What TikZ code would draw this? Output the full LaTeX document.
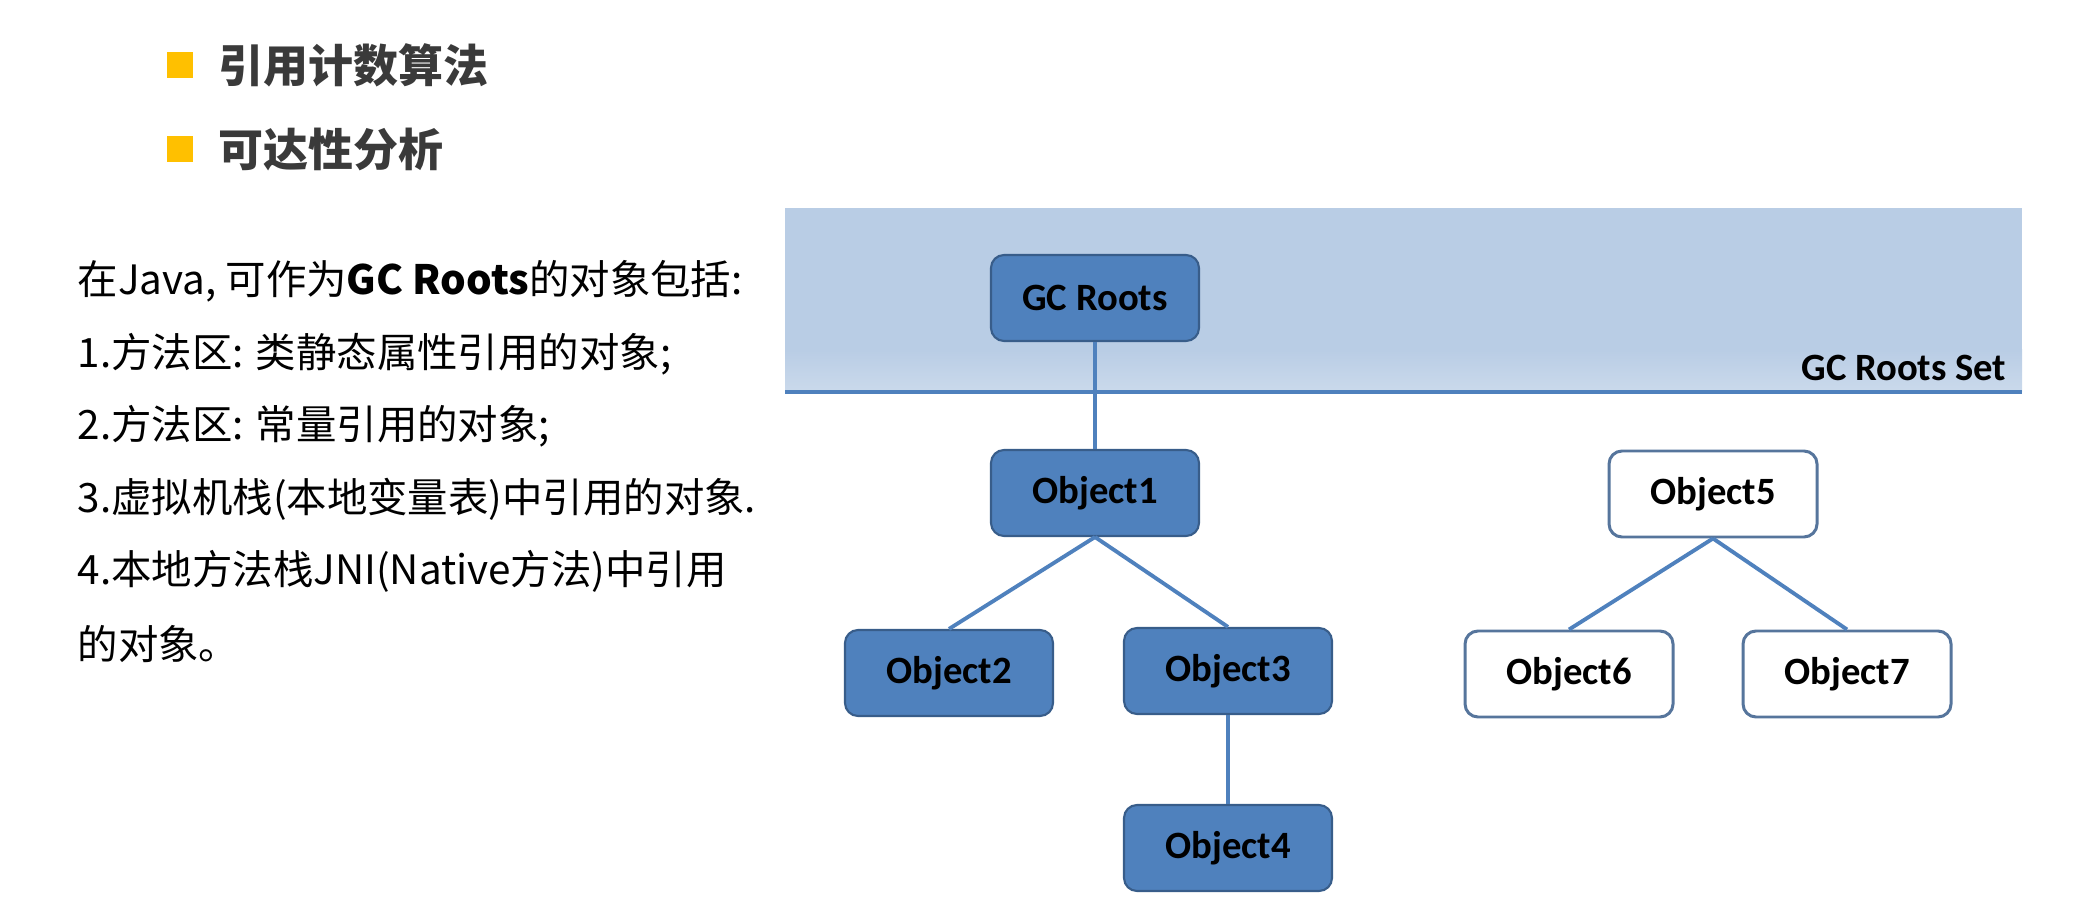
\documentclass[tikz,border=0pt]{standalone}
\usepackage{fontspec}
\newfontfamily\cjkfont{Noto Sans CJK SC}
\newfontfamily\calfont{Carlito}
\usetikzlibrary{positioning}

\definecolor{bandblue}{HTML}{B9CDE5}
\definecolor{lineblue}{HTML}{4F81BD}
\definecolor{edgeblue}{HTML}{385D8A}
\definecolor{bulletgold}{HTML}{FFC000}
\definecolor{headgray}{HTML}{3A3A3A}

\tikzset{
	objbox/.style={draw=edgeblue, line width=0.6pt, fill=lineblue, rounded corners=0.13cm,
		minimum width=2.08cm, minimum height=0.86cm, text=black,
		font=\calfont\bfseries\fontsize{11}{13}\selectfont},
	freebox/.style={objbox, fill=white, draw=edgeblue!85!white, line width=0.85pt},
	link/.style={draw=lineblue, line width=1.1pt},
	bulletbox/.style={fill=bulletgold, minimum size=0.26cm, inner sep=0pt},
	headtext/.style={font=\cjkfont\bfseries\fontsize{12.8}{15}\selectfont, text=headgray, inner sep=0pt},
	bodytext/.style={font=\cjkfont\fontsize{11.5}{14}\selectfont, inner sep=0pt, anchor=west},
}

\begin{document}
\begin{tikzpicture}
	\useasboundingbox (0,0) rectangle (20.88,-9.16);

	% headings
	\node[bulletbox] (b1) at (1.80,-0.655) {};
	\node[headtext, right=0.24cm of b1] (h1) {引用计数算法};
	\node[bulletbox] (b2) at (1.80,-1.495) {};
	\node[headtext, right=0.24cm of b2] (h2) {可达性分析};

	% GC roots list
	\node[bodytext] (l0) at (0.77,-2.81) {在Java, 可作为\textbf{GC Roots}的对象包括:};
	\node[bodytext] (l1) at (0.77,-3.54) {1.方法区: 类静态属性引用的对象;};
	\node[bodytext] (l2) at (0.77,-4.26) {2.方法区: 常量引用的对象;};
	\node[bodytext] (l3) at (0.77,-4.99) {3.虚拟机栈(本地变量表)中引用的对象.};
	\node[bodytext] (l4) at (0.77,-5.71) {4.本地方法栈JNI(Native方法)中引用};
	\node[bodytext] (l5) at (0.77,-6.44) {的对象。};

	% root set band
	\coordinate (setL) at (7.85,-3.92);
	\coordinate (setR) at (20.22,-3.92);
	\fill[bandblue] (7.85,-2.08) rectangle (setR);
	\shade[top color=bandblue, bottom color=bandblue!75!white] (7.85,-3.50) rectangle (setR);
	\draw[lineblue, line width=1.4pt] (setL) -- (setR);
	\node[anchor=east, inner sep=0pt, font=\calfont\bfseries\fontsize{11}{13}\selectfont] (setlabel) at (20.07,-3.68) {GC Roots Set};

	% reachable objects
	\node[objbox] (gc) at (10.95,-2.98) {GC Roots};
	\node[objbox] (o1) at (10.95,-4.93) {Object1};
	\node[objbox] (o2) at (9.49,-6.73) {Object2};
	\node[objbox] (o3) at (12.28,-6.71) {Object3};
	\node[objbox] (o4) at (12.28,-8.48) {Object4};

	% unreachable objects
	\node[freebox] (o5) at (17.13,-4.94) {Object5};
	\node[freebox] (o6) at (15.69,-6.74) {Object6};
	\node[freebox] (o7) at (18.47,-6.74) {Object7};

	\draw[link] (gc) -- (o1);
	\draw[link] (o1.south) -- (o2.north);
	\draw[link] (o1.south) -- (o3.north);
	\draw[link] (o3) -- (o4);
	\draw[link] (o5.south) -- (o6.north);
	\draw[link] (o5.south) -- (o7.north);
\end{tikzpicture}
\end{document}
